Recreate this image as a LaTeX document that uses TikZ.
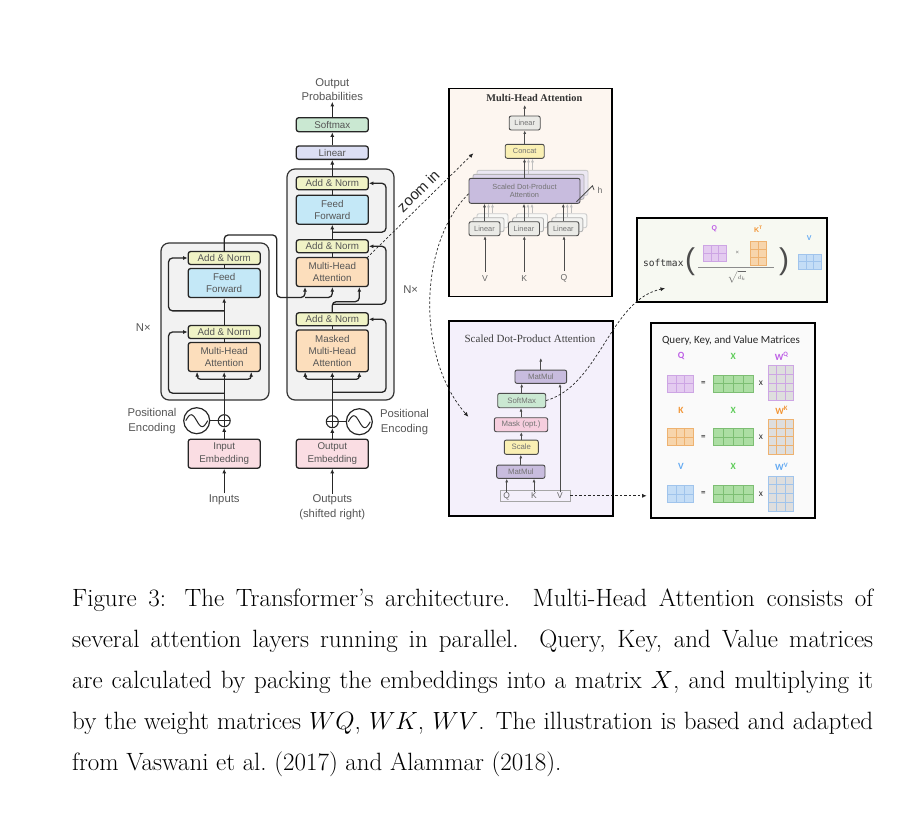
\documentclass[tikz,border=0pt]{standalone}
\usepackage{fontspec}
\usepackage{xcolor}
\usepackage{tikz}
\usetikzlibrary{arrows.meta, shadows}

\newfontfamily\labfont{Liberation Sans}
\newfontfamily\ttlfont{Liberation Serif}
\newfontfamily\codefont{DejaVu Sans Mono}
\newfontfamily\calfont{Carlito}

\definecolor{anfill}{RGB}{240,243,198}
\definecolor{fffill}{RGB}{196,232,247}
\definecolor{mhfill}{RGB}{252,222,188}
\definecolor{embfill}{RGB}{250,221,227}
\definecolor{smfill}{RGB}{202,232,210}
\definecolor{linfill}{RGB}{220,223,244}
\definecolor{stackbg}{RGB}{242,242,242}
\definecolor{txtgray}{RGB}{85,85,85}
\definecolor{mhbg}{RGB}{253,246,240}
\definecolor{sdbg}{RGB}{244,240,251}
\definecolor{fmbg}{RGB}{247,249,242}
\definecolor{qkbg}{RGB}{250,250,250}
\definecolor{sdpafill}{RGB}{200,188,222}
\definecolor{grayfill}{RGB}{234,234,230}
\definecolor{concatfill}{RGB}{250,240,180}
\definecolor{maskfill}{RGB}{246,206,222}
\definecolor{qfill}{RGB}{228,203,240}
\definecolor{qline}{RGB}{205,165,228}
\definecolor{qlab}{RGB}{190,95,230}
\definecolor{kfill}{RGB}{247,213,172}
\definecolor{kline}{RGB}{238,178,112}
\definecolor{klab}{RGB}{242,150,55}
\definecolor{vfill}{RGB}{196,221,246}
\definecolor{vline}{RGB}{160,196,236}
\definecolor{vlab}{RGB}{100,170,242}
\definecolor{xfill}{RGB}{172,222,163}
\definecolor{xline}{RGB}{125,190,115}
\definecolor{xlab}{RGB}{95,205,90}
\definecolor{wfill}{RGB}{222,222,222}

\begin{document}
\begin{tikzpicture}[x=1pt, y=-1pt,
    % transformer blocks
    blk/.style={draw=black!85, line width=1.3pt, rounded corners=2.5pt, minimum width=72pt, inner sep=0pt, align=center, text=txtgray, font=\labfont\fontsize{9.8}{12.3}\selectfont},
    an/.style={blk, fill=anfill, minimum height=13pt},
    ff/.style={blk, fill=fffill, minimum height=29pt},
    mh/.style={blk, fill=mhfill, minimum height=29pt},
    emb/.style={blk, fill=embfill, minimum height=29pt},
    stack/.style={draw=black!80, line width=1.2pt, rounded corners=8pt, fill=stackbg, inner sep=0pt},
    outlab/.style={font=\labfont\fontsize{11.3}{15}\selectfont, text=txtgray, align=center, inner sep=1pt},
    pe/.style={circle, draw=black!85, line width=1.2pt, minimum size=26pt, inner sep=0pt},
    plus/.style={circle, draw=black!85, line width=1.1pt, minimum size=12pt, inner sep=0pt,
        path picture={\draw[line width=0.9pt] (path picture bounding box.north) -- (path picture bounding box.south)
                      (path picture bounding box.west) -- (path picture bounding box.east);}},
    Arr/.style={-{Latex[length=4.5pt,width=4pt]}, line width=1.3pt, black!85},
    Ln/.style={line width=1.3pt, black!85},
    % zoomed panels
    panel/.style={draw=black, line width=1.8pt, inner sep=0pt},
    sm/.style={draw=black!70, line width=0.9pt, rounded corners=2pt, inner sep=0pt, align=center, text=black!55, font=\labfont\fontsize{7.4}{8.6}\selectfont},
    shd/.style={copy shadow={shadow xshift=8pt, shadow yshift=8pt, fill=#1!35, draw=black!20},
                copy shadow={shadow xshift=4pt, shadow yshift=4pt, fill=#1!60, draw=black!30}},
    smArr/.style={-{Latex[length=3.5pt,width=3pt]}, line width=1pt, black!70},
    dsh/.style={dash pattern=on 2.5pt off 2pt, line width=0.7pt, black!85, -{Latex[length=4.5pt,width=4pt]}},
    captxt/.style={font=\fontsize{25}{41}\selectfont, align=left, inner sep=0pt},
]
\useasboundingbox (0,0) rectangle (901,817);

% ---------------- encoder / decoder
\node[stack, minimum width=108pt, minimum height=157pt] (enc_box_node) at (215,321.5) {};
\node[stack, minimum width=107pt, minimum height=231pt] (dec_box_node) at (340.5,284.5) {};

\node[an] (enc_an2_node) at (224.2,258) {Add \& Norm};
\node[ff] (enc_ff_node) at (224.2,283) {Feed\\Forward};
\node[an] (enc_an1_node) at (224.2,332) {Add \& Norm};
\node[mh] (enc_mha_node) at (224.2,357) {Multi-Head\\Attention};
\node[plus] (enc_plus_node) at (224.2,420.7) {};
\node[pe] (enc_pe_node) at (196.7,420.7) {};
\node[emb] (enc_emb_node) at (224.2,453.7) {Input\\Embedding};
\node[outlab] (inputs_node) at (224.2,499.5) {Inputs};
\node[outlab] (enc_pos_node) at (152,421) {Positional\\Encoding};
\node[outlab] (enc_nx_node) at (143.3,327.3) {N×};

\node[outlab, font=\labfont\fontsize{11.3}{14}\selectfont] (outprob_node) at (332.3,89.7) {Output\\Probabilities};
\node[blk, fill=smfill, minimum height=14pt] (dec_sm_node) at (332.3,124.7) {Softmax};
\node[blk, fill=linfill, minimum height=13.3pt] (dec_lin_node) at (332.3,152.7) {Linear};
\node[an] (dec_an3_node) at (332.3,183.3) {Add \& Norm};
\node[ff] (dec_ff_node) at (332.3,209.7) {Feed\\Forward};
\node[an] (dec_an2_node) at (332.3,246.3) {Add \& Norm};
\node[mh] (dec_mha_node) at (332.3,272) {Multi-Head\\Attention};
\node[an] (dec_an1_node) at (332.3,319.3) {Add \& Norm};
\node[mh, minimum height=41.7pt] (dec_mmha_node) at (332.3,350.8) {Masked\\Multi-Head\\Attention};
\node[plus] (dec_plus_node) at (332.3,421.7) {};
\node[pe] (dec_pe_node) at (359.3,421.7) {};
\node[emb] (dec_emb_node) at (332.3,453.7) {Output\\Embedding};
\node[outlab] (outputs_node) at (332.3,507.5) {Outputs\\(shifted right)};
\node[outlab] (dec_pos_node) at (404.5,422) {Positional\\Encoding};
\node[outlab] (dec_nx_node) at (410.7,290) {N×};

% sine waves
\draw[Ln, line width=1pt] ([xshift=-11pt]enc_pe_node.center) sin ++(5.5,-6) cos ++(5.5,6) sin ++(5.5,6) cos ++(5.5,-6);
\draw[Ln, line width=1pt] ([xshift=-11pt]dec_pe_node.center) sin ++(5.5,-6) cos ++(5.5,6) sin ++(5.5,6) cos ++(5.5,-6);

% encoder flow
\draw[Arr] (inputs_node) -- (enc_emb_node);
\draw[Arr] (enc_emb_node) -- (enc_plus_node);
\draw[Ln] (enc_pe_node) -- (enc_plus_node);
\draw[Arr] (enc_plus_node) -- (enc_mha_node);
\draw[Arr, rounded corners=3pt] ([yshift=-7pt]enc_mha_node.south) -| ([xshift=-27pt]enc_mha_node.south);
\draw[Arr, rounded corners=3pt] ([yshift=-7pt]enc_mha_node.south) -| ([xshift=27pt]enc_mha_node.south);
\draw[Arr, rounded corners=4pt] ([yshift=-21pt]enc_mha_node.south) -| ([xshift=-19pt]enc_an1_node.west) -- (enc_an1_node.west);
\draw[Ln] (enc_mha_node) -- (enc_an1_node);
\draw[Arr] (enc_an1_node) -- (enc_ff_node);
\draw[Arr, rounded corners=4pt] ([yshift=14pt]enc_an1_node.north) -| ([xshift=-19pt]enc_an2_node.west) -- (enc_an2_node.west);
\draw[Ln] (enc_ff_node) -- (enc_an2_node);

% encoder output into decoder
\coordinate (dec_k_in) at (305,297.5);
\coordinate (dec_v_in) at (332.3,297.5);
\draw[Arr, rounded corners=4pt] (enc_an2_node.north) |- (276.7,235) |- (dec_k_in) -- (dec_k_in |- dec_mha_node.south);
\draw[Arr, rounded corners=4pt] (dec_k_in) -- (dec_v_in) -- (dec_v_in |- dec_mha_node.south);

% decoder flow
\draw[Arr] (outputs_node) -- (dec_emb_node);
\draw[Arr] (dec_emb_node) -- (dec_plus_node);
\draw[Ln] (dec_pe_node) -- (dec_plus_node);
\draw[Arr] (dec_plus_node) -- (dec_mmha_node);
\draw[Arr, rounded corners=3pt] ([yshift=-7pt]dec_mmha_node.south) -| ([xshift=-27pt]dec_mmha_node.south);
\draw[Arr, rounded corners=3pt] ([yshift=-7pt]dec_mmha_node.south) -| ([xshift=27pt]dec_mmha_node.south);
\draw[Arr, rounded corners=4pt] ([yshift=-20pt]dec_mmha_node.south) -| ([xshift=17pt]dec_an1_node.east) -- (dec_an1_node.east);
\draw[Ln] (dec_mmha_node) -- (dec_an1_node);
\draw[Arr, rounded corners=4pt] (dec_an1_node.north) -- ++(0,-10.5) -| ([xshift=27pt]dec_mha_node.south);
\draw[Arr, rounded corners=4pt] ([yshift=8pt]dec_an1_node.north) -| ([xshift=17pt]dec_an2_node.east) -- (dec_an2_node.east);
\draw[Ln] (dec_mha_node) -- (dec_an2_node);
\draw[Arr] (dec_an2_node) -- (dec_ff_node);
\draw[Arr, rounded corners=4pt] ([yshift=7pt]dec_an2_node.north) -| ([xshift=17pt]dec_an3_node.east) -- (dec_an3_node.east);
\draw[Ln] (dec_ff_node) -- (dec_an3_node);
\draw[Arr] (dec_an3_node) -- (dec_lin_node);
\draw[Arr] (dec_lin_node) -- (dec_sm_node);
\draw[Arr] (dec_sm_node) -- (outprob_node);

% ---------------- multi-head attention panel
\node[panel, fill=mhbg, minimum width=163pt, minimum height=208pt] (mh_box_node) at (530.5,192.5) {};
\node[font=\ttlfont\bfseries\fontsize{10.3}{12}\selectfont, text=black!80] (mh_title_node) at (534.3,97.7) {Multi-Head Attention};
\node[sm, fill=grayfill, minimum width=31pt, minimum height=14pt] (mh_lin_top_node) at (524.7,123) {Linear};
\node[sm, fill=concatfill, minimum width=39pt, minimum height=14pt] (mh_concat_node) at (524.7,151.3) {Concat};
\node[sm, fill=sdpafill, minimum width=111pt, minimum height=25pt, shd=sdpafill] (mh_sdpa_node) at (524.5,190.8) {Scaled Dot-Product\\Attention};
\foreach \n/\xx in {v/484.5, k/524, q/563.3}
    \node[sm, fill=grayfill, minimum width=31pt, minimum height=14pt, shd=grayfill] (mh_lin_\n_node) at (\xx,228.7) {Linear};
\foreach \n/\xx/\lb in {v/485/V, k/524.3/K, q/564/Q}
    \node[font=\labfont\fontsize{8.6}{10}\selectfont, text=black!60] (mh_\n_node) at (\xx,278.3) {\lb};
\node[font=\labfont\fontsize{8.6}{10}\selectfont, text=black!60] (mh_h_node) at (600,190) {h};

\foreach \n in {v,k,q} {
    \draw[smArr] (mh_\n_node) -- (mh_\n_node |- mh_lin_\n_node.south);
    \draw[smArr] (mh_lin_\n_node) -- (mh_lin_\n_node |- mh_sdpa_node.south);
    \foreach \s in {4,8}
        \draw[smArr, black!25] ([xshift=\s pt, yshift=\s pt]mh_lin_\n_node.north) -- ([xshift=\s pt]mh_lin_\n_node.north |- mh_sdpa_node.south);
}
\draw[smArr] (mh_sdpa_node.north) -- (mh_sdpa_node.north |- mh_concat_node.south);
\foreach \s in {4,8}
    \draw[smArr, black!25] ([xshift=\s pt, yshift=\s pt]mh_sdpa_node.north) -- ([xshift=\s pt]mh_sdpa_node.north |- mh_concat_node.south);
\draw[smArr] (mh_concat_node) -- (mh_lin_top_node);
\coordinate (mh_out) at (524.7,105);
\draw[smArr] (mh_lin_top_node) -- (mh_out);
\draw[black!70, line width=0.8pt] ([xshift=-4pt, yshift=2pt]mh_sdpa_node.south east) -- ([xshift=12pt, yshift=5pt]mh_sdpa_node.east) -- (mh_h_node.west);

% ---------------- softmax formula panel
\node[panel, fill=fmbg, minimum width=190pt, minimum height=84pt] (fm_box_node) at (732,260) {};
\node[font=\codefont\fontsize{9.6}{10}\selectfont, text=black!80] (fm_softmax_node) at (663.3,263.3) {softmax};
\node[font=\labfont\fontsize{30}{30}\selectfont, text=black!70] (fm_lpar_node) at (690,262) {(};
\node[font=\labfont\fontsize{30}{30}\selectfont, text=black!70] (fm_rpar_node) at (784,262) {)};
\node[font=\labfont\bfseries\fontsize{7}{8}\selectfont, text=qlab] (fm_q_node) at (714.3,229) {Q};
\node[font=\labfont\bfseries\fontsize{7}{8}\selectfont, text=klab] (fm_k_node) at (758.3,229) {K\textsuperscript{T}};
\node[font=\labfont\bfseries\fontsize{7}{8}\selectfont, text=vlab] (fm_v_node) at (809.3,238.3) {V};
\node[font=\labfont\fontsize{6}{7}\selectfont, text=black!55] (fm_times_node) at (737.3,253.3) {×};
\node[font=\fontsize{6.5}{7}\selectfont, text=black!60] (fm_dk_node) at (736.7,277) {$\sqrt{d_k}$};
\draw[black!45, line width=0.6pt] (698.3,267.3) -- (774,267.3);
\foreach \i in {0,1,2} \foreach \j in {0,1}
    \draw[fill=qfill, draw=qline, line width=0.6pt] (703.3+\i*7.6, 245.7+\j*7.7) rectangle ++(7.6,7.7);
\foreach \i in {0,1} \foreach \j in {0,1,2}
    \draw[fill=kfill, draw=kline, line width=0.6pt] (750.7+\i*8, 241.7+\j*8) rectangle ++(8,8);
\foreach \i in {0,1,2} \foreach \j in {0,1}
    \draw[fill=vfill, draw=vline, line width=0.6pt] (798.3+\i*7.5, 254.3+\j*7.35) rectangle ++(7.5,7.35);

% ---------------- scaled dot-product attention panel
\node[panel, fill=sdbg, minimum width=164pt, minimum height=195pt] (sd_box_node) at (531,418.5) {};
\node[font=\ttlfont\fontsize{11}{12}\selectfont, text=black!75] (sd_title_node) at (530,338.3) {Scaled Dot-Product Attention};
\node[sm, fill=sdpafill, minimum width=51.7pt, minimum height=13.3pt, font=\labfont\fontsize{7.8}{9}\selectfont] (sd_mm2_node) at (540.8,376.7) {MatMul};
\node[sm, fill=smfill, minimum width=48pt, minimum height=14.4pt, font=\labfont\fontsize{7.8}{9}\selectfont] (sd_sm_node) at (521.7,400.5) {SoftMax};
\node[sm, fill=maskfill, minimum width=53.4pt, minimum height=14pt, font=\labfont\fontsize{7.8}{9}\selectfont] (sd_mask_node) at (521,424.7) {Mask (opt.)};
\node[sm, fill=concatfill, minimum width=34pt, minimum height=14.3pt, font=\labfont\fontsize{7.8}{9}\selectfont] (sd_scale_node) at (521.3,447.2) {Scale};
\node[sm, fill=sdpafill, minimum width=48.3pt, minimum height=13.3pt, font=\labfont\fontsize{7.8}{9}\selectfont] (sd_mm1_node) at (520.8,471.7) {MatMul};
\node[draw=black!35, line width=0.6pt, minimum width=70pt, minimum height=11.7pt, inner sep=0pt] (sd_in_node) at (535,495.8) {};
\foreach \n/\xx/\lb in {q/506.7/Q, k/534/K, v/560/V}
    \node[font=\labfont\fontsize{8.4}{9}\selectfont, text=black!60, inner sep=0.5pt] (sd_\n_node) at (\xx,496) {\lb};
\draw[smArr] (sd_q_node) -- (sd_q_node |- sd_mm1_node.south);
\draw[smArr] (sd_k_node) -- (sd_k_node |- sd_mm1_node.south);
\draw[smArr] (sd_v_node) -- (sd_v_node |- sd_mm2_node.south);
\draw[smArr] (sd_mm1_node.north) -- (sd_mm1_node.north |- sd_scale_node.south);
\draw[smArr] (sd_scale_node.north) -- (sd_scale_node.north |- sd_mask_node.south);
\draw[smArr] (sd_mask_node.north) -- (sd_mask_node.north |- sd_sm_node.south);
\draw[smArr] (sd_sm_node.north) -- (sd_sm_node.north |- sd_mm2_node.south);
\coordinate (sd_out) at (540.8,358);
\draw[smArr] (sd_mm2_node) -- (sd_out);

% ---------------- query / key / value matrices panel
\node[panel, fill=qkbg, minimum width=164pt, minimum height=195pt] (qkv_box_node) at (733,420.5) {};
\node[font=\calfont\fontsize{11}{12}\selectfont, text=black!85] (qkv_title_node) at (731,340.7) {Query, Key, and Value Matrices};
\foreach \yy/\mat/\wl in {383.3/q/Q, 437.2/k/K, 493.8/v/V} {
    \node[font=\calfont\bfseries\fontsize{9.5}{10}\selectfont, text=\mat lab] (qkv_\mat_lab_node) at (681,\yy-27) {\wl};
    \node[font=\calfont\bfseries\fontsize{9.5}{10}\selectfont, text=xlab] (qkv_\mat_x_node) at (733.3,\yy-27) {X};
    \node[font=\calfont\bfseries\fontsize{9.5}{10}\selectfont, text=\mat lab] (qkv_\mat_w_node) at (781.7,\yy-27) {W\textsuperscript{\wl}};
    \node[font=\calfont\bfseries\fontsize{9}{10}\selectfont, text=black!70] (qkv_\mat_eq_node) at (703.3,\yy) {=};
    \node[font=\calfont\fontsize{9.5}{10}\selectfont, text=black!80] (qkv_\mat_mul_node) at (761,\yy) {x};
    \foreach \i in {0,1,2} \foreach \j in {0,1}
        \draw[fill=\mat fill, draw=\mat line, line width=0.6pt] (667.7+\i*8.53, \yy-8.5+\j*8.5) rectangle ++(8.53,8.5);
    \foreach \i in {0,...,3} \foreach \j in {0,1}
        \draw[fill=xfill, draw=xline, line width=0.6pt] (713.3+\i*10, \yy-8.5+\j*8.5) rectangle ++(10,8.5);
    \foreach \i in {0,1,2} \foreach \j in {0,...,3}
        \draw[fill=wfill, draw=\mat line, line width=0.6pt] (768.3+\i*8.33, \yy-18+\j*8.75) rectangle ++(8.33,8.75);
}

% ---------------- dashed zoom links
\coordinate (zoom_tip) at (473.3,153.3);
\coordinate (sdpa_tip) at (468.3,416.7);
\coordinate (fm_tip) at (665,288.3);
\draw[dsh] ([xshift=-2pt, yshift=-1pt]dec_mha_node.north east) -- node[pos=0.56, sloped, above=6pt, inner sep=0pt, font=\labfont\fontsize{15}{15}\selectfont, text=black!85] (zoom_lab_node) {zoom in} (zoom_tip);
\draw[dsh] ([yshift=-3pt]mh_sdpa_node.west) .. controls (418.6,243.2) and (416,357.2) .. (sdpa_tip);
\draw[dsh] (sd_sm_node.east) .. controls (600,385) and (610,300) .. (fm_tip);
\draw[dsh, shorten >=3.5pt] (sd_in_node.east) -- (sd_in_node.east -| qkv_box_node.west);

% ---------------- caption
\node[captxt, anchor=north west] (caption_node) at (72,588.5) {%
\makebox[801pt][s]{Figure 3: The Transformer's architecture.  Multi-Head Attention consists of}\\
\makebox[801pt][s]{several attention layers running in parallel.  Query, Key, and Value matrices}\\
\makebox[801pt][s]{are calculated by packing the embeddings into a matrix $X$, and multiplying it}\\
\makebox[801pt][s]{by the weight matrices $WQ$, $WK$, $WV$. The illustration is based and adapted}\\
from Vaswani et al.\ (2017) and Alammar (2018).};

\end{tikzpicture}
\end{document}
